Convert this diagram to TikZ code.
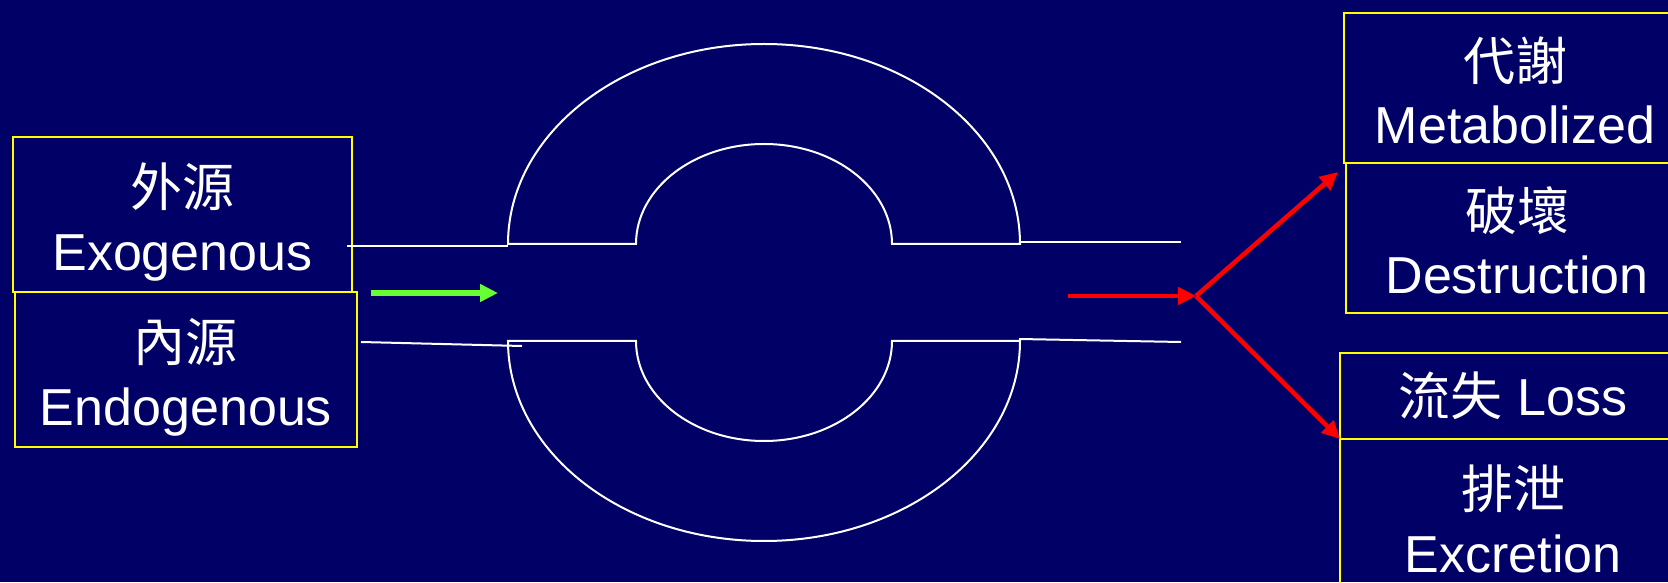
\documentclass[tikz,border=0pt]{standalone}
\usepackage{fontspec}
\setmainfont{Liberation Sans}
\newfontfamily\cjk{Noto Sans CJK TC}
\usepackage{tikz}
\usetikzlibrary{positioning,arrows.meta}
\definecolor{slidebg}{RGB}{0,0,102}
\definecolor{boxyellow}{RGB}{255,255,0}
\definecolor{flowgreen}{RGB}{102,255,51}
\definecolor{flowred}{RGB}{255,0,0}
\newcommand{\boxtext}[2]{{\cjk #1}\rule{0pt}{1.28cm}\\#2\rule[-0.32cm]{0pt}{0.32cm}}
\tikzset{
	x=0.02cm, y=0.02cm,% one unit is one pixel of the slide
	my arrow/.style = {-{Triangle[length=0.36cm,width=0.34cm]}},
	my pipe/.style = {draw=white, line width=0.04cm}
}

\begin{document}
\begin{tikzpicture}[node distance = 0cm]
            \tikzset{my box/.style = {rectangle, draw=boxyellow, line width=0.04cm, outer sep=0pt, inner sep=0pt, align=center, text=white, font=\fontsize{29.6}{35.9}\selectfont}}
            \useasboundingbox (0,0) rectangle (1668,582);
            \clip (0,0) rectangle (1668,582);
            \fill[slidebg] (0,0) rectangle (1668,582);
            % sources
            \node[my box, minimum width=6.78cm, minimum height=3.1cm] (exo) at (182.5,367.5) {\boxtext{外源}{Exogenous}};
            \node[my box, minimum width=6.84cm, minimum height=3.1cm, below=0cm of exo, xshift=0.07cm] (endo) {\boxtext{內源}{Endogenous}};
            % fates
            \node[my box, minimum width=6.84cm, minimum height=3cm] (meta) at (1515,494) {\boxtext{代謝}{Metabolized}};
            \node[my box, minimum width=6.84cm, minimum height=3cm, below=0cm of meta, xshift=0.04cm] (dest) {\boxtext{破壞}{Destruction}};
            \node[my box, minimum width=6.92cm, minimum height=1.72cm] (loss) at (1513,186) {{\cjk 流失} Loss};
            \node[my box, minimum width=6.92cm, minimum height=3.1cm, below=0cm of loss] (excr) {\boxtext{排泄}{Excretion}};
            % pipe
            \draw[my pipe] (508,338) arc[start angle=180, end angle=0, x radius=256, y radius=200] -- (892,338) arc[start angle=0, end angle=180, x radius=128, y radius=100] -- cycle;
            \draw[my pipe] (508,241) arc[start angle=180, end angle=360, x radius=256, y radius=200] -- (892,241) arc[start angle=0, end angle=-180, x radius=128, y radius=100] -- cycle;
            \draw[my pipe] (347,336) -- (508,336);
            \draw[my pipe] (361,240) -- (522,236);
            \draw[my pipe] (1020,340) -- (1181,340);
            \draw[my pipe] (1019,243) -- (1181,240);
            % flow
            \coordinate (in1) at (371,289);
            \coordinate (in2) at (498,289);
            \coordinate (out1) at (1068,286);
            \coordinate (split) at (1196,286);
            \draw[my arrow, flowgreen, line width=0.12cm] (in1) -- (in2);
            \draw[my arrow, flowred, line width=0.09cm] (out1) -- (split);
            \draw[my arrow, flowred, line width=0.09cm] (split) -- ([xshift=-0.16cm,yshift=-0.18cm]dest.north west);
            \draw[my arrow, flowred, line width=0.09cm] (split) -- (loss.south west);
        \end{tikzpicture}
\end{document}
